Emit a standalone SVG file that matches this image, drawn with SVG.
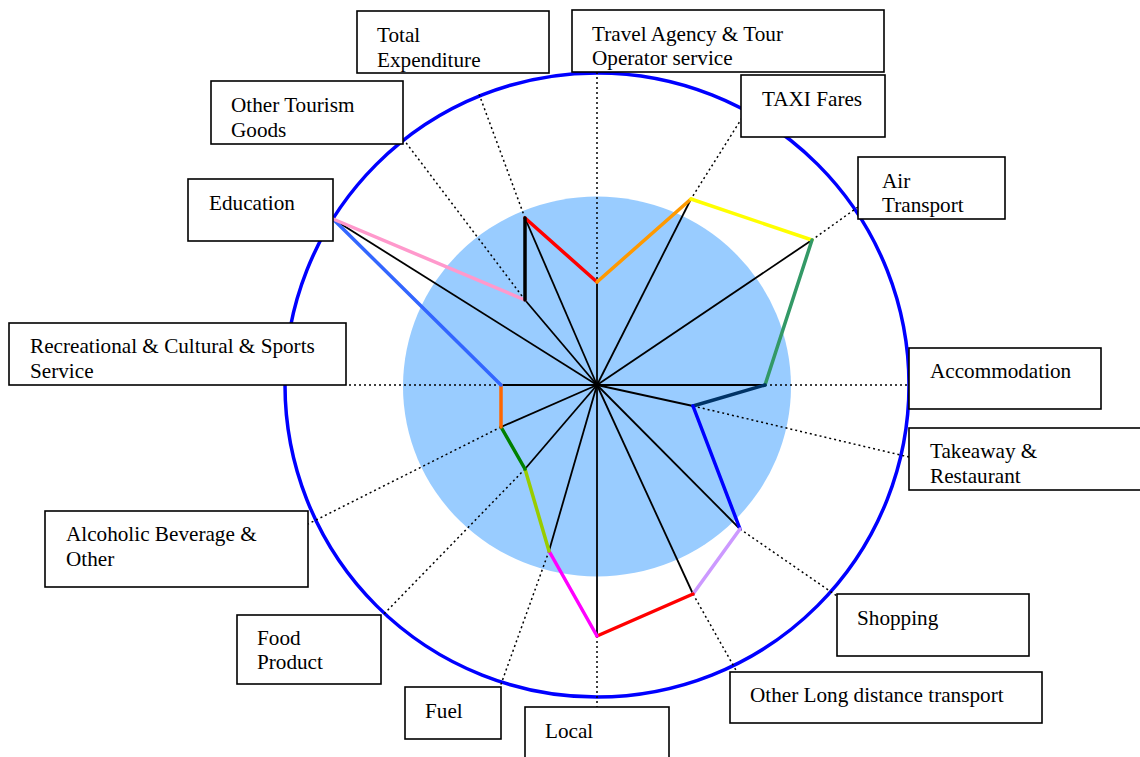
<svg xmlns="http://www.w3.org/2000/svg" width="1140" height="757" viewBox="0 0 1140 757">
<style>
.box{fill:#fff;stroke:#000;stroke-width:1.6}
.lbl{font-family:"Liberation Serif","Times New Roman",serif;font-size:21.2px;fill:#000}
.dot{stroke:#000;stroke-width:1.5;stroke-dasharray:2,3;fill:none}
.sp{stroke:#000;stroke-width:1.8;fill:none}
.ed{stroke-width:3.5;fill:none;stroke-linecap:round}
</style>
<rect width="1140" height="757" fill="#fff"/>
<ellipse cx="597" cy="386.5" rx="194" ry="190" fill="#99CCFF"/>
<circle cx="597" cy="385" r="312" fill="none" stroke="#0000FF" stroke-width="3.5"/>
<g id="connectors">
<line class="dot" x1="597" y1="72" x2="597" y2="282"/>
<line class="dot" x1="742" y1="118" x2="691" y2="199"/>
<line class="dot" x1="858" y1="207" x2="812" y2="240"/>
<line class="dot" x1="765" y1="385" x2="909" y2="385"/>
<line class="dot" x1="693" y1="406" x2="909" y2="457"/>
<line class="dot" x1="740" y1="529" x2="837" y2="596"/>
<line class="dot" x1="693" y1="594" x2="737" y2="672"/>
<line class="dot" x1="597" y1="636" x2="597" y2="707"/>
<line class="dot" x1="549" y1="551" x2="500" y2="687"/>
<line class="dot" x1="525" y1="469" x2="383" y2="615"/>
<line class="dot" x1="501" y1="427" x2="308" y2="524"/>
<line class="dot" x1="501" y1="385" x2="347" y2="385"/>
<line class="dot" x1="525" y1="300" x2="404" y2="140"/>
<line class="dot" x1="525" y1="218" x2="479" y2="94"/>
<g>
<line class="sp" x1="597" y1="385" x2="597" y2="282"/>
<line class="sp" x1="597" y1="385" x2="691" y2="199"/>
<line class="sp" x1="597" y1="385" x2="812" y2="240"/>
<line class="sp" x1="597" y1="385" x2="765" y2="385"/>
<line class="sp" x1="597" y1="385" x2="693" y2="406"/>
<line class="sp" x1="597" y1="385" x2="740" y2="529"/>
<line class="sp" x1="597" y1="385" x2="693" y2="594"/>
<line class="sp" x1="597" y1="385" x2="597" y2="636"/>
<line class="sp" x1="597" y1="385" x2="549" y2="551"/>
<line class="sp" x1="597" y1="385" x2="525" y2="469"/>
<line class="sp" x1="597" y1="385" x2="501" y2="427"/>
<line class="sp" x1="597" y1="385" x2="501" y2="385"/>
<line class="sp" x1="597" y1="385" x2="333" y2="219"/>
<line class="sp" x1="597" y1="385" x2="525" y2="300"/>
<line class="sp" x1="597" y1="385" x2="525" y2="218"/>
</g>
<line class="ed" stroke="#FF0000" x1="525" y1="218" x2="597" y2="282"/>
<line class="ed" stroke="#FF9900" x1="597" y1="282" x2="691" y2="199"/>
<line class="ed" stroke="#FFFF00" x1="691" y1="199" x2="812" y2="240"/>
<line class="ed" stroke="#339966" x1="812" y1="240" x2="765" y2="385"/>
<line class="ed" stroke="#003366" x1="765" y1="385" x2="693" y2="406"/>
<line class="ed" stroke="#0000FF" x1="693" y1="406" x2="740" y2="529"/>
<line class="ed" stroke="#CC99FF" x1="740" y1="529" x2="693" y2="594"/>
<line class="ed" stroke="#FF0000" x1="693" y1="594" x2="597" y2="636"/>
<line class="ed" stroke="#FF00FF" x1="597" y1="636" x2="549" y2="551"/>
<line class="ed" stroke="#99CC00" x1="549" y1="551" x2="525" y2="469"/>
<line class="ed" stroke="#008000" x1="525" y1="469" x2="501" y2="427"/>
<line class="ed" stroke="#FF6600" x1="501" y1="427" x2="501" y2="385"/>
<line class="ed" stroke="#3366FF" x1="501" y1="385" x2="333" y2="219"/>
<line class="ed" stroke="#FF99CC" x1="333" y1="219" x2="525" y2="300"/>
<line class="ed" stroke="#000000" x1="525" y1="300" x2="525" y2="218"/>
</g>
<g id="n-total"><rect class="box" x="357" y="11" width="192" height="62"/><text class="lbl" x="377" y="42">Total</text><text class="lbl" x="377" y="67">Expenditure</text></g>
<g id="n-travel"><rect class="box" x="572" y="10" width="312" height="62"/><text class="lbl" x="592" y="41">Travel Agency &amp; Tour</text><text class="lbl" x="592" y="65">Operator service</text></g>
<g id="n-taxi"><rect class="box" x="741" y="75" width="144" height="62"/><text class="lbl" x="762" y="106">TAXI Fares</text></g>
<g id="n-air"><rect class="box" x="858" y="157" width="147" height="62"/><text class="lbl" x="882" y="188">Air</text><text class="lbl" x="882" y="212">Transport</text></g>
<g id="n-accom"><rect class="box" x="909" y="348" width="192" height="61"/><text class="lbl" x="930" y="378">Accommodation</text></g>
<g id="n-takeaway"><rect class="box" x="909" y="428" width="232" height="62"/><text class="lbl" x="930" y="458">Takeaway &amp;</text><text class="lbl" x="930" y="483">Restaurant</text></g>
<g id="n-shopping"><rect class="box" x="837" y="594" width="192" height="62"/><text class="lbl" x="857" y="625">Shopping</text></g>
<g id="n-longdist"><rect class="box" x="730" y="672" width="312" height="51"/><text class="lbl" x="750" y="702">Other Long distance transport</text></g>
<g id="n-local"><rect class="box" x="525" y="707" width="144" height="70"/><text class="lbl" x="545" y="738">Local</text></g>
<g id="n-fuel"><rect class="box" x="405" y="687" width="96" height="52"/><text class="lbl" x="425" y="718">Fuel</text></g>
<g id="n-food"><rect class="box" x="237" y="615" width="144" height="69"/><text class="lbl" x="257" y="645">Food</text><text class="lbl" x="257" y="669">Product</text></g>
<g id="n-alcohol"><rect class="box" x="45" y="511" width="263" height="76"/><text class="lbl" x="66" y="541">Alcoholic Beverage &amp;</text><text class="lbl" x="66" y="566">Other</text></g>
<g id="n-recreation"><rect class="box" x="9" y="323" width="337" height="62"/><text class="lbl" x="30" y="353">Recreational &amp; Cultural &amp; Sports</text><text class="lbl" x="30" y="378">Service</text></g>
<g id="n-education"><rect class="box" x="188" y="179" width="145" height="62"/><text class="lbl" x="209" y="210">Education</text></g>
<g id="n-othergoods"><rect class="box" x="211" y="81" width="192" height="63"/><text class="lbl" x="231" y="112">Other Tourism</text><text class="lbl" x="231" y="137">Goods</text></g>
</svg>
